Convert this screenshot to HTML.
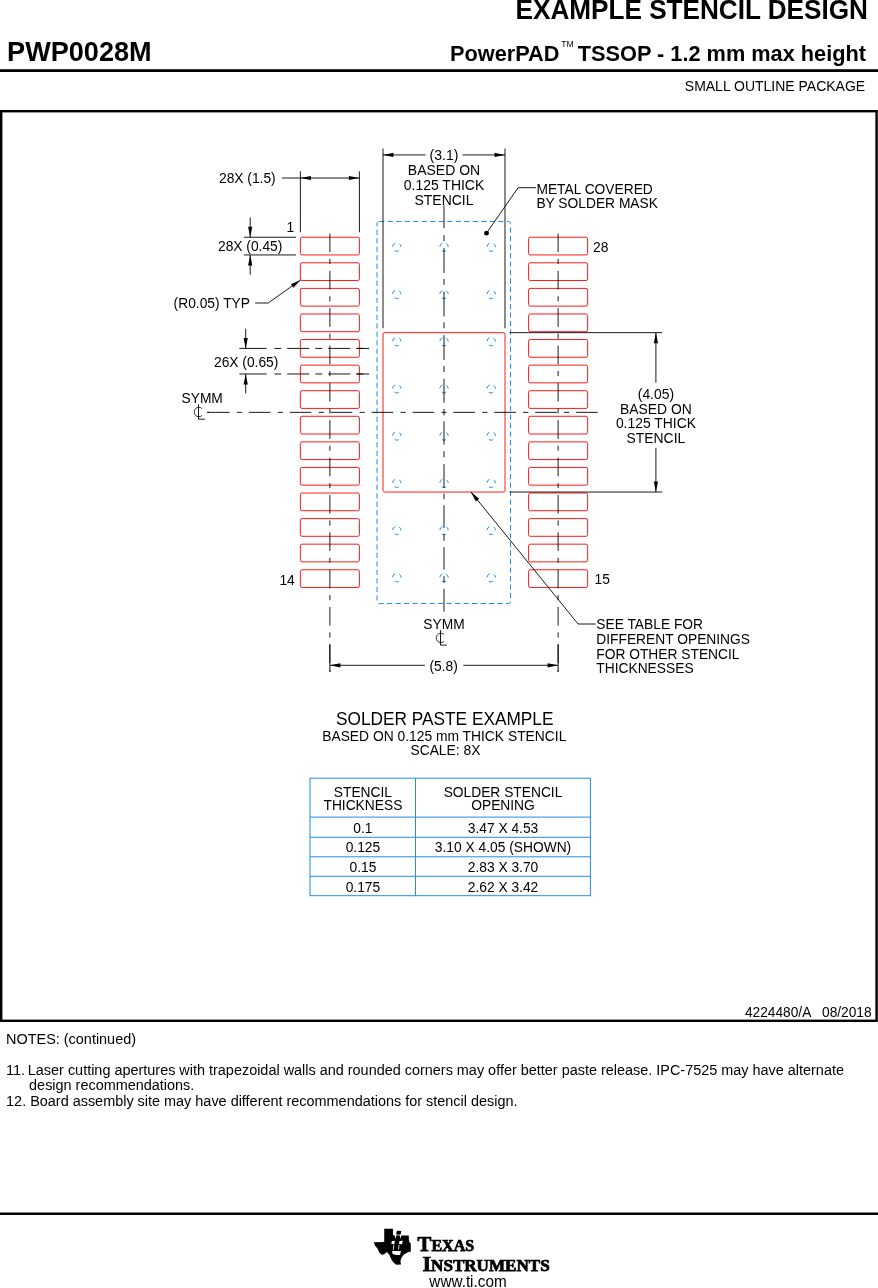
<!DOCTYPE html>
<html lang="en"><head><meta charset="utf-8"><title>PWP0028M Example Stencil Design</title>
<style>html,body{margin:0;padding:0;background:#fff}svg{display:block}</style></head>
<body>
<svg width="878" height="1288" viewBox="0 0 878 1288" font-family="'Liberation Sans', Arial, Helvetica, sans-serif" fill="#000" style="will-change:transform">
<rect width="878" height="1288" fill="#fff"/>
<text transform="translate(867.9 18.6) scale(1 1.04)" font-size="26.15" text-anchor="end" font-weight="bold">EXAMPLE STENCIL DESIGN</text>
<text transform="translate(7.1 61) scale(1 1.04)" font-size="27.1" font-weight="bold">PWP0028M</text>
<text transform="translate(866 60.5) scale(1 1.04)" font-size="21.75" text-anchor="end" font-weight="bold">TSSOP - 1.2 mm max height</text>
<text transform="translate(559.5 60.5) scale(1 1.04)" font-size="21.75" text-anchor="end" font-weight="bold">PowerPAD</text>
<text transform="translate(561.2 46.8) scale(1 1.04)" font-size="8.6">TM</text>
<rect x="0" y="69.2" width="878" height="2.8" fill="#000"/>
<text transform="translate(865.1 91.2) scale(1 1.04)" font-size="14.0" text-anchor="end">SMALL OUTLINE PACKAGE</text>
<rect x="1.2" y="111.2" width="875.4" height="909.6" fill="none" stroke="#000" stroke-width="2.4"/>
<rect x="377.03" y="221.5" width="133.5" height="382" rx="2.2" fill="none" stroke="#1e8cf0" stroke-width="1" stroke-dasharray="5.2 3.3"/>
<circle cx="396.78" cy="247.08" r="4.2" fill="none" stroke="#1e8cf0" stroke-width="1" stroke-dasharray="4.398 4.398" stroke-dashoffset="4.398"/>
<circle cx="444.00" cy="247.08" r="4.2" fill="none" stroke="#1e8cf0" stroke-width="1" stroke-dasharray="4.398 4.398" stroke-dashoffset="4.398"/>
<circle cx="491.22" cy="247.08" r="4.2" fill="none" stroke="#1e8cf0" stroke-width="1" stroke-dasharray="4.398 4.398" stroke-dashoffset="4.398"/>
<circle cx="396.78" cy="294.30" r="4.2" fill="none" stroke="#1e8cf0" stroke-width="1" stroke-dasharray="4.398 4.398" stroke-dashoffset="4.398"/>
<circle cx="444.00" cy="294.30" r="4.2" fill="none" stroke="#1e8cf0" stroke-width="1" stroke-dasharray="4.398 4.398" stroke-dashoffset="4.398"/>
<circle cx="491.22" cy="294.30" r="4.2" fill="none" stroke="#1e8cf0" stroke-width="1" stroke-dasharray="4.398 4.398" stroke-dashoffset="4.398"/>
<circle cx="396.78" cy="341.52" r="4.2" fill="none" stroke="#1e8cf0" stroke-width="1" stroke-dasharray="4.398 4.398" stroke-dashoffset="4.398"/>
<circle cx="444.00" cy="341.52" r="4.2" fill="none" stroke="#1e8cf0" stroke-width="1" stroke-dasharray="4.398 4.398" stroke-dashoffset="4.398"/>
<circle cx="491.22" cy="341.52" r="4.2" fill="none" stroke="#1e8cf0" stroke-width="1" stroke-dasharray="4.398 4.398" stroke-dashoffset="4.398"/>
<circle cx="396.78" cy="388.74" r="4.2" fill="none" stroke="#1e8cf0" stroke-width="1" stroke-dasharray="4.398 4.398" stroke-dashoffset="4.398"/>
<circle cx="444.00" cy="388.74" r="4.2" fill="none" stroke="#1e8cf0" stroke-width="1" stroke-dasharray="4.398 4.398" stroke-dashoffset="4.398"/>
<circle cx="491.22" cy="388.74" r="4.2" fill="none" stroke="#1e8cf0" stroke-width="1" stroke-dasharray="4.398 4.398" stroke-dashoffset="4.398"/>
<circle cx="396.78" cy="435.96" r="4.2" fill="none" stroke="#1e8cf0" stroke-width="1" stroke-dasharray="4.398 4.398" stroke-dashoffset="4.398"/>
<circle cx="444.00" cy="435.96" r="4.2" fill="none" stroke="#1e8cf0" stroke-width="1" stroke-dasharray="4.398 4.398" stroke-dashoffset="4.398"/>
<circle cx="491.22" cy="435.96" r="4.2" fill="none" stroke="#1e8cf0" stroke-width="1" stroke-dasharray="4.398 4.398" stroke-dashoffset="4.398"/>
<circle cx="396.78" cy="483.18" r="4.2" fill="none" stroke="#1e8cf0" stroke-width="1" stroke-dasharray="4.398 4.398" stroke-dashoffset="4.398"/>
<circle cx="444.00" cy="483.18" r="4.2" fill="none" stroke="#1e8cf0" stroke-width="1" stroke-dasharray="4.398 4.398" stroke-dashoffset="4.398"/>
<circle cx="491.22" cy="483.18" r="4.2" fill="none" stroke="#1e8cf0" stroke-width="1" stroke-dasharray="4.398 4.398" stroke-dashoffset="4.398"/>
<circle cx="396.78" cy="530.40" r="4.2" fill="none" stroke="#1e8cf0" stroke-width="1" stroke-dasharray="4.398 4.398" stroke-dashoffset="4.398"/>
<circle cx="444.00" cy="530.40" r="4.2" fill="none" stroke="#1e8cf0" stroke-width="1" stroke-dasharray="4.398 4.398" stroke-dashoffset="4.398"/>
<circle cx="491.22" cy="530.40" r="4.2" fill="none" stroke="#1e8cf0" stroke-width="1" stroke-dasharray="4.398 4.398" stroke-dashoffset="4.398"/>
<circle cx="396.78" cy="577.62" r="4.2" fill="none" stroke="#1e8cf0" stroke-width="1" stroke-dasharray="4.398 4.398" stroke-dashoffset="4.398"/>
<circle cx="444.00" cy="577.62" r="4.2" fill="none" stroke="#1e8cf0" stroke-width="1" stroke-dasharray="4.398 4.398" stroke-dashoffset="4.398"/>
<circle cx="491.22" cy="577.62" r="4.2" fill="none" stroke="#1e8cf0" stroke-width="1" stroke-dasharray="4.398 4.398" stroke-dashoffset="4.398"/>
<rect x="300.37" y="237.24" width="59.03" height="17.71" rx="1.6" fill="none" stroke="#ff1a1a" stroke-width="1"/>
<rect x="300.37" y="262.82" width="59.03" height="17.71" rx="1.6" fill="none" stroke="#ff1a1a" stroke-width="1"/>
<rect x="300.37" y="288.40" width="59.03" height="17.71" rx="1.6" fill="none" stroke="#ff1a1a" stroke-width="1"/>
<rect x="300.37" y="313.98" width="59.03" height="17.71" rx="1.6" fill="none" stroke="#ff1a1a" stroke-width="1"/>
<rect x="300.37" y="339.55" width="59.03" height="17.71" rx="1.6" fill="none" stroke="#ff1a1a" stroke-width="1"/>
<rect x="300.37" y="365.13" width="59.03" height="17.71" rx="1.6" fill="none" stroke="#ff1a1a" stroke-width="1"/>
<rect x="300.37" y="390.71" width="59.03" height="17.71" rx="1.6" fill="none" stroke="#ff1a1a" stroke-width="1"/>
<rect x="300.37" y="416.29" width="59.03" height="17.71" rx="1.6" fill="none" stroke="#ff1a1a" stroke-width="1"/>
<rect x="300.37" y="441.86" width="59.03" height="17.71" rx="1.6" fill="none" stroke="#ff1a1a" stroke-width="1"/>
<rect x="300.37" y="467.44" width="59.03" height="17.71" rx="1.6" fill="none" stroke="#ff1a1a" stroke-width="1"/>
<rect x="300.37" y="493.02" width="59.03" height="17.71" rx="1.6" fill="none" stroke="#ff1a1a" stroke-width="1"/>
<rect x="300.37" y="518.60" width="59.03" height="17.71" rx="1.6" fill="none" stroke="#ff1a1a" stroke-width="1"/>
<rect x="300.37" y="544.17" width="59.03" height="17.71" rx="1.6" fill="none" stroke="#ff1a1a" stroke-width="1"/>
<rect x="300.37" y="569.75" width="59.03" height="17.71" rx="1.6" fill="none" stroke="#ff1a1a" stroke-width="1"/>
<rect x="528.60" y="237.24" width="59.03" height="17.71" rx="1.6" fill="none" stroke="#ff1a1a" stroke-width="1"/>
<rect x="528.60" y="262.82" width="59.03" height="17.71" rx="1.6" fill="none" stroke="#ff1a1a" stroke-width="1"/>
<rect x="528.60" y="288.40" width="59.03" height="17.71" rx="1.6" fill="none" stroke="#ff1a1a" stroke-width="1"/>
<rect x="528.60" y="313.98" width="59.03" height="17.71" rx="1.6" fill="none" stroke="#ff1a1a" stroke-width="1"/>
<rect x="528.60" y="339.55" width="59.03" height="17.71" rx="1.6" fill="none" stroke="#ff1a1a" stroke-width="1"/>
<rect x="528.60" y="365.13" width="59.03" height="17.71" rx="1.6" fill="none" stroke="#ff1a1a" stroke-width="1"/>
<rect x="528.60" y="390.71" width="59.03" height="17.71" rx="1.6" fill="none" stroke="#ff1a1a" stroke-width="1"/>
<rect x="528.60" y="416.29" width="59.03" height="17.71" rx="1.6" fill="none" stroke="#ff1a1a" stroke-width="1"/>
<rect x="528.60" y="441.86" width="59.03" height="17.71" rx="1.6" fill="none" stroke="#ff1a1a" stroke-width="1"/>
<rect x="528.60" y="467.44" width="59.03" height="17.71" rx="1.6" fill="none" stroke="#ff1a1a" stroke-width="1"/>
<rect x="528.60" y="493.02" width="59.03" height="17.71" rx="1.6" fill="none" stroke="#ff1a1a" stroke-width="1"/>
<rect x="528.60" y="518.60" width="59.03" height="17.71" rx="1.6" fill="none" stroke="#ff1a1a" stroke-width="1"/>
<rect x="528.60" y="544.17" width="59.03" height="17.71" rx="1.6" fill="none" stroke="#ff1a1a" stroke-width="1"/>
<rect x="528.60" y="569.75" width="59.03" height="17.71" rx="1.6" fill="none" stroke="#ff1a1a" stroke-width="1"/>
<rect x="383.01" y="332.67" width="121.99" height="159.37" rx="1.6" fill="none" stroke="#ff1a1a" stroke-width="1"/>
<line x1="206.9" y1="412.35" x2="209" y2="412.35" stroke="#000" stroke-width="0.9"/>
<line x1="208.0" y1="412.35" x2="598" y2="412.35" stroke="#000" stroke-width="0.9" stroke-dasharray="21.6 7.3 5.1 6.9"/>
<path d="M444.0,205.3V228.3 M444.0,235.2V241.2 M444.0,248V272.8 M444.0,278.8V284.7 M444.0,291.6V316.4 M444.0,322.4V328.3 M444.0,335.2V360 M444.0,366V372 M444.0,378.8V402.7 M444.0,408.9V415.4 M444.0,421.4V444.6 M444.0,451.3V457.3 M444.0,464.1V488 M444.0,493.6V499.1 M444.0,505.3V528.1 M444.0,534.1V540.7 M444.0,547.2V569.6 M444.0,576.1V582.6 M444.0,588.7V611.8" stroke="#000" stroke-width="0.9" fill="none"/>
<line x1="329.885" y1="233.5" x2="329.885" y2="671.8" stroke="#000" stroke-width="0.9" stroke-dasharray="18.7 6.75 5.1 6.8"/>
<line x1="329.885" y1="644.4" x2="329.885" y2="671.8" stroke="#000" stroke-width="0.9"/>
<line x1="558.115" y1="233.5" x2="558.115" y2="671.8" stroke="#000" stroke-width="0.9" stroke-dasharray="18.7 6.75 5.1 6.8"/>
<line x1="558.115" y1="644.4" x2="558.115" y2="671.8" stroke="#000" stroke-width="0.9"/>
<line x1="383.0075" y1="148.6" x2="383.0075" y2="328.3" stroke="#000" stroke-width="0.9"/>
<line x1="504.9925" y1="148.6" x2="504.9925" y2="328.3" stroke="#000" stroke-width="0.9"/>
<line x1="383.0075" y1="154.95" x2="425.5" y2="154.95" stroke="#000" stroke-width="0.9"/>
<line x1="462.5" y1="154.95" x2="504.9925" y2="154.95" stroke="#000" stroke-width="0.9"/>
<polygon points="383.01,154.95 393.51,152.85 393.51,157.05" fill="#000"/>
<polygon points="504.99,154.95 494.49,157.05 494.49,152.85" fill="#000"/>
<text transform="translate(444.0 159.6) scale(1 1.04)" font-size="14.0" text-anchor="middle">(3.1)</text>
<text transform="translate(444.0 174.6) scale(1 1.04)" font-size="14.0" text-anchor="middle">BASED ON</text>
<text transform="translate(444.0 189.6) scale(1 1.04)" font-size="14.0" text-anchor="middle">0.125 THICK</text>
<text transform="translate(444.0 204.6) scale(1 1.04)" font-size="14.0" text-anchor="middle">STENCIL</text>
<line x1="300.3725" y1="171.3" x2="300.3725" y2="232.3" stroke="#000" stroke-width="0.9"/>
<line x1="359.3975" y1="171.3" x2="359.3975" y2="232.3" stroke="#000" stroke-width="0.9"/>
<line x1="282" y1="178" x2="359.3975" y2="178" stroke="#000" stroke-width="0.9"/>
<polygon points="300.37,178.00 310.87,175.90 310.87,180.10" fill="#000"/>
<polygon points="359.40,178.00 348.90,180.10 348.90,175.90" fill="#000"/>
<text transform="translate(219 183) scale(1 1.04)" font-size="13.8">28X (1.5)</text>
<text transform="translate(286.5 231.5) scale(1 1.04)" font-size="13.8">1</text>
<text transform="translate(593 251.6) scale(1 1.04)" font-size="13.8">28</text>
<text transform="translate(279.4 585.2) scale(1 1.04)" font-size="13.8">14</text>
<text transform="translate(594.5 583.9) scale(1 1.04)" font-size="13.8">15</text>
<line x1="244" y1="237.24250000000004" x2="296" y2="237.24250000000004" stroke="#000" stroke-width="0.9"/>
<line x1="244" y1="254.95000000000002" x2="296" y2="254.95000000000002" stroke="#000" stroke-width="0.9"/>
<line x1="250.2" y1="217.6" x2="250.2" y2="237.24250000000004" stroke="#000" stroke-width="0.9"/>
<line x1="250.2" y1="254.95000000000002" x2="250.2" y2="274.8" stroke="#000" stroke-width="0.9"/>
<polygon points="250.20,237.24 248.10,226.74 252.30,226.74" fill="#000"/>
<polygon points="250.20,254.95 252.30,265.45 248.10,265.45" fill="#000"/>
<text transform="translate(218.0 251.3) scale(1 1.04)" font-size="13.8">28X (0.45)</text>
<text transform="translate(173.6 308.0) scale(1 1.04)" font-size="13.8">(R0.05) TYP</text>
<line x1="255.2" y1="303" x2="268.2" y2="303" stroke="#000" stroke-width="0.9"/>
<line x1="268.2" y1="303" x2="300.6725" y2="279.9275" stroke="#000" stroke-width="0.9"/>
<polygon points="300.67,279.93 293.33,287.72 290.90,284.30" fill="#000"/>
<line x1="239.4" y1="348.40625" x2="266.7" y2="348.40625" stroke="#000" stroke-width="0.9"/>
<line x1="274.4" y1="348.40625" x2="369.2" y2="348.40625" stroke="#000" stroke-width="0.9" stroke-dasharray="6.9 5.9 22.2 6"/>
<line x1="356.4" y1="348.40625" x2="369.2" y2="348.40625" stroke="#000" stroke-width="0.9"/>
<line x1="239.4" y1="373.98375000000004" x2="266.7" y2="373.98375000000004" stroke="#000" stroke-width="0.9"/>
<line x1="274.4" y1="373.98375000000004" x2="369.2" y2="373.98375000000004" stroke="#000" stroke-width="0.9" stroke-dasharray="6.9 5.9 22.2 6"/>
<line x1="356.4" y1="373.98375000000004" x2="369.2" y2="373.98375000000004" stroke="#000" stroke-width="0.9"/>
<line x1="245.7" y1="328.8" x2="245.7" y2="348.40625" stroke="#000" stroke-width="0.9"/>
<line x1="245.7" y1="373.98375000000004" x2="245.7" y2="393.4" stroke="#000" stroke-width="0.9"/>
<polygon points="245.70,348.41 243.60,337.91 247.80,337.91" fill="#000"/>
<polygon points="245.70,373.98 247.80,384.48 243.60,384.48" fill="#000"/>
<text transform="translate(214 367.2) scale(1 1.04)" font-size="13.8">26X (0.65)</text>
<text transform="translate(181.5 402.8) scale(1 1.04)" font-size="13.8">SYMM</text>
<path d="M198.5,404.3 V419.2 H204.9" fill="none" stroke="#000" stroke-width="0.9"/>
<path d="M202.04,408.51 A4.7,4.7 0 1 0 202.04,415.49" fill="none" stroke="#000" stroke-width="0.8"/>
<text transform="translate(444.0 628.5) scale(1 1.04)" font-size="13.8" text-anchor="middle">SYMM</text>
<path d="M440.5,630.2 V645.1 H446.9" fill="none" stroke="#000" stroke-width="0.9"/>
<path d="M444.04,634.41 A4.7,4.7 0 1 0 444.04,641.39" fill="none" stroke="#000" stroke-width="0.8"/>
<line x1="329.885" y1="665.3" x2="424.8" y2="665.3" stroke="#000" stroke-width="0.9"/>
<line x1="463.4" y1="665.3" x2="558.115" y2="665.3" stroke="#000" stroke-width="0.9"/>
<polygon points="329.88,665.30 340.38,663.20 340.38,667.40" fill="#000"/>
<polygon points="558.12,665.30 547.62,667.40 547.62,663.20" fill="#000"/>
<text transform="translate(443.7 671) scale(1 1.04)" font-size="13.8" text-anchor="middle">(5.8)</text>
<text transform="translate(536.4 194) scale(1 1.04)" font-size="13.8">METAL COVERED</text>
<text transform="translate(536.4 208.4) scale(1 1.04)" font-size="13.8">BY SOLDER MASK</text>
<polyline points="536,187.7 518.1,187.7 486.5,233.2" fill="none" stroke="#000" stroke-width="0.9"/>
<circle cx="486.5" cy="233.2" r="2.4" fill="#000"/>
<line x1="509.5" y1="332.66625" x2="662.2" y2="332.66625" stroke="#000" stroke-width="0.9"/>
<line x1="509.5" y1="492.03375000000005" x2="662.2" y2="492.03375000000005" stroke="#000" stroke-width="0.9"/>
<line x1="655.9" y1="332.66625" x2="655.9" y2="382.7" stroke="#000" stroke-width="0.9"/>
<line x1="655.9" y1="447.8" x2="655.9" y2="492.03375000000005" stroke="#000" stroke-width="0.9"/>
<polygon points="655.90,332.67 658.00,343.17 653.80,343.17" fill="#000"/>
<polygon points="655.90,492.03 653.80,481.53 658.00,481.53" fill="#000"/>
<text transform="translate(655.9 399) scale(1 1.04)" font-size="13.9" text-anchor="middle">(4.05)</text>
<text transform="translate(655.9 413.6) scale(1 1.04)" font-size="13.9" text-anchor="middle">BASED ON</text>
<text transform="translate(655.9 428.2) scale(1 1.04)" font-size="13.9" text-anchor="middle">0.125 THICK</text>
<text transform="translate(655.9 442.8) scale(1 1.04)" font-size="13.9" text-anchor="middle">STENCIL</text>
<text transform="translate(596.3 629.4) scale(1 1.04)" font-size="13.8">SEE TABLE FOR</text>
<text transform="translate(596.3 644.0) scale(1 1.04)" font-size="13.8">DIFFERENT OPENINGS</text>
<text transform="translate(596.3 658.6) scale(1 1.04)" font-size="13.8">FOR OTHER STENCIL</text>
<text transform="translate(596.3 673.2) scale(1 1.04)" font-size="13.8">THICKNESSES</text>
<polyline points="595.8,624 578.1,624 470.9,491.9" fill="none" stroke="#000" stroke-width="0.9"/>
<polygon points="470.90,491.90 479.15,498.73 475.89,501.38" fill="#000"/>
<text transform="translate(444.75 725) scale(1 1.04)" font-size="17.28" text-anchor="middle">SOLDER PASTE EXAMPLE</text>
<text transform="translate(444.25 741) scale(1 1.04)" font-size="13.85" text-anchor="middle">BASED ON 0.125 mm THICK STENCIL</text>
<text transform="translate(445.4 755) scale(1 1.04)" font-size="13.85" text-anchor="middle">SCALE: 8X</text>
<g stroke="#1e8cf0" stroke-width="1" fill="none">
<rect x="310" y="778.2" width="280.4" height="117.5"/>
<line x1="415.5" y1="778.2" x2="415.5" y2="895.7"/>
<line x1="310" y1="817.1" x2="590.4" y2="817.1"/>
<line x1="310" y1="837.3" x2="590.4" y2="837.3"/>
<line x1="310" y1="856.8" x2="590.4" y2="856.8"/>
<line x1="310" y1="876.3" x2="590.4" y2="876.3"/>
</g>
<text transform="translate(362.9 797.3) scale(1 1.04)" font-size="13.8" text-anchor="middle">STENCIL</text>
<text transform="translate(362.9 810.4) scale(1 1.04)" font-size="13.8" text-anchor="middle">THICKNESS</text>
<text transform="translate(503.0 797.3) scale(1 1.04)" font-size="13.8" text-anchor="middle">SOLDER STENCIL</text>
<text transform="translate(503.0 810.4) scale(1 1.04)" font-size="13.8" text-anchor="middle">OPENING</text>
<text transform="translate(362.9 833.2) scale(1 1.04)" font-size="13.8" text-anchor="middle">0.1</text>
<text transform="translate(503.0 833.2) scale(1 1.04)" font-size="13.8" text-anchor="middle">3.47 X 4.53</text>
<text transform="translate(362.9 852.4) scale(1 1.04)" font-size="13.8" text-anchor="middle">0.125</text>
<text transform="translate(503.0 852.4) scale(1 1.04)" font-size="13.8" text-anchor="middle">3.10 X 4.05 (SHOWN)</text>
<text transform="translate(362.9 871.9) scale(1 1.04)" font-size="13.8" text-anchor="middle">0.15</text>
<text transform="translate(503.0 871.9) scale(1 1.04)" font-size="13.8" text-anchor="middle">2.83 X 3.70</text>
<text transform="translate(362.9 891.9) scale(1 1.04)" font-size="13.8" text-anchor="middle">0.175</text>
<text transform="translate(503.0 891.9) scale(1 1.04)" font-size="13.8" text-anchor="middle">2.62 X 3.42</text>
<text transform="translate(871.6 1017.0) scale(1 1.04)" font-size="13.74" text-anchor="end" xml:space="preserve">4224480/A   08/2018</text>
<text transform="translate(6.1 1043.9) scale(1 1.04)" font-size="14.44">NOTES: (continued)</text>
<text transform="translate(6.1 1074.7) scale(1 1.04)" font-size="14.44">11.</text>
<text transform="translate(27.8 1074.7) scale(1 1.04)" font-size="14.44">Laser cutting apertures with trapezoidal walls and rounded corners may offer better paste release. IPC-7525 may have alternate</text>
<text transform="translate(29.1 1090.2) scale(1 1.04)" font-size="14.44">design recommendations.</text>
<text transform="translate(6.1 1105.8) scale(1 1.04)" font-size="14.44">12. Board assembly site may have different recommendations for stencil design.</text>
<rect x="0" y="1212.5" width="878" height="2.5" fill="#000"/>
<polygon points="384.23,1228.83 392.89,1228.83 393.06,1235.21 394.77,1235.55 395.22,1239.08 396.47,1235.21 399.89,1235.44 400.57,1239.08 401.31,1235.38 408.77,1235.38 408.95,1241.36 410.71,1243.53 410.82,1251.61 407.86,1252.18 403.88,1254.57 401.31,1257.88 400.46,1261.29 401.03,1264.60 396.47,1264.82 393.34,1262.55 391.06,1258.73 389.18,1254.57 386.91,1252.07 384.23,1254.35 381.67,1254.80 379.39,1252.87 377.79,1248.88 374.95,1245.46 373.87,1242.22 384.23,1241.93" fill="#000"/>
<polygon points="396.93,1230.83 401.31,1231.11 400.46,1234.81 396.19,1234.53" fill="#000"/>
<polygon points="391.92,1241.08 394.88,1240.79 394.31,1244.32 391.23,1243.75" fill="#fff"/>
<polygon points="399.44,1240.96 402.85,1240.68 401.94,1244.21 399.04,1243.98" fill="#fff"/>
<polygon points="393.51,1244.78 394.31,1244.78 393.74,1249.90 392.94,1249.90" fill="#fff"/>
<polygon points="398.64,1244.78 399.44,1244.78 399.04,1249.62 398.18,1249.62" fill="#fff"/>
<polygon points="392.20,1251.04 400.92,1250.93 400.00,1254.92 396.47,1255.03 392.60,1254.00" fill="#fff"/>
<text x="417.6" y="1250.6" font-family="'Liberation Serif', 'Times New Roman', serif" font-weight="bold" stroke="#000" stroke-width="0.75" textLength="56.6" lengthAdjust="spacingAndGlyphs"><tspan font-size="20.8">T</tspan><tspan font-size="16.1">EXAS</tspan></text>
<text x="422.4" y="1270.6" font-family="'Liberation Serif', 'Times New Roman', serif" font-weight="bold" stroke="#000" stroke-width="0.75" textLength="127.3" lengthAdjust="spacingAndGlyphs"><tspan font-size="21.4">I</tspan><tspan font-size="16.4">NSTRUMENTS</tspan></text>
<text transform="translate(468 1286.6) scale(1 1.04)" font-size="15.3" text-anchor="middle">www.ti.com</text>
</svg>
</body></html>
